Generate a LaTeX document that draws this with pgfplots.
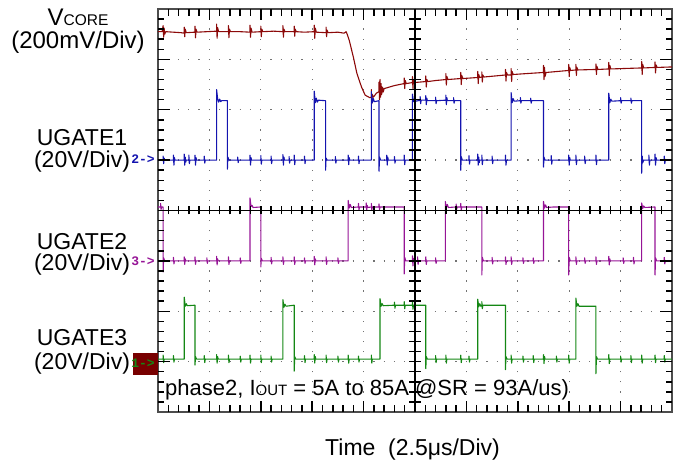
\documentclass[border=0pt]{standalone}
\usepackage{pgfplots}
\pgfplotsset{compat=1.18}
\usepackage{fontspec}
\setmainfont{Liberation Sans}
\setmonofont{Liberation Mono}
\definecolor{vcore}{RGB}{140,10,10}
\definecolor{ugA}{RGB}{20,20,175}
\definecolor{ugB}{RGB}{150,20,150}
\definecolor{ugC}{RGB}{20,135,20}
\definecolor{mkbox}{RGB}{120,0,0}
\newcommand{\fs}[1]{\fontsize{#1}{#1}\selectfont}
\begin{document}
\begin{tikzpicture}[tk/.style={black, line width=1.5pt}]
\path[use as bounding box] (-158pt,-52pt) rectangle (520pt,412pt);
% frame, grid and traces
\begin{axis}[
  scale only axis, width=514pt, height=403pt,
  xmin=0, xmax=10, ymin=0, ymax=8,
  xtick={0,1,...,10}, ytick={0,1,...,8},
  xticklabels={}, yticklabels={},
  major tick length=0pt,
  axis line style={black!70, line width=1.2pt},
  xmajorgrids, ymajorgrids,
  x grid style={black!55, line width=1.3pt, dash pattern=on 1.3pt off 8.775pt, dash phase=0.65pt},
  y grid style={black!55, line width=1.3pt, dash pattern=on 1.3pt off 8.98pt, dash phase=0.65pt},
  every axis plot/.append style={line width=1.1pt, line join=round},
]
% VCORE
\addplot[vcore] coordinates {
(0,7.55)(0.08,7.55)(0.1,7.67)(0.11,7.44)(0.12,7.62)(0.13,7.5)(0.15,7.55)
(0.3,7.54)(0.45,7.53)(0.51,7.52)(0.51,7.64)(0.52,7.45)(0.53,7.6)(0.55,7.53)
(0.72,7.54)(0.72,7.66)(0.73,7.43)(0.74,7.6)(0.76,7.54)
(0.95,7.55)(1.14,7.56)(1.14,7.7)(1.15,7.42)(1.16,7.63)(1.18,7.55)
(1.37,7.55)(1.37,7.67)(1.38,7.43)(1.39,7.6)(1.41,7.55)
(1.6,7.55)(1.79,7.54)(1.79,7.68)(1.80,7.44)(1.81,7.62)(1.83,7.54)
(2.0,7.55)(2.0,7.66)(2.01,7.45)(2.02,7.6)(2.04,7.55)
(2.25,7.56)(2.43,7.55)(2.43,7.67)(2.44,7.44)(2.45,7.6)(2.47,7.55)
(2.65,7.55)(2.65,7.66)(2.66,7.46)(2.67,7.6)(2.69,7.55)
(2.85,7.54)(3.04,7.55)(3.04,7.68)(3.05,7.42)(3.06,7.62)(3.08,7.54)
(3.27,7.53)(3.27,7.64)(3.28,7.45)(3.29,7.58)(3.31,7.53)
(3.5,7.54)(3.62,7.52)(3.66,7.55)(3.68,7.5)(3.72,7.38)(3.8,7.05)(3.87,6.72)(3.96,6.45)(4.03,6.29)(4.12,6.24)
(4.15,6.25)(4.15,6.4)(4.16,6.12)(4.17,6.3)(4.19,6.25)
(4.25,6.33)(4.3,6.36)(4.3,6.55)(4.31,6.2)(4.32,6.6)(4.33,6.25)(4.34,6.52)(4.35,6.3)(4.37,6.45)(4.38,6.35)(4.40,6.42)
(4.6,6.48)(4.79,6.52)(4.79,6.63)(4.80,6.42)(4.81,6.58)(4.83,6.52)
(4.95,6.54)(4.95,6.66)(4.96,6.42)(4.97,6.6)(4.99,6.54)
(5.21,6.56)(5.21,6.67)(5.22,6.45)(5.23,6.6)(5.25,6.56)
(5.4,6.58)(5.6,6.6)(5.6,6.72)(5.61,6.49)(5.62,6.66)(5.64,6.6)
(5.89,6.62)(5.89,6.74)(5.90,6.5)(5.91,6.68)(5.93,6.62)
(6.22,6.64)(6.22,6.76)(6.23,6.52)(6.24,6.7)(6.26,6.64)
(6.30,6.65)(6.30,6.75)(6.31,6.55)(6.32,6.69)(6.34,6.65)
(6.55,6.67)(6.76,6.69)(6.76,6.8)(6.77,6.57)(6.78,6.74)(6.80,6.69)
(6.87,6.69)(6.87,6.82)(6.88,6.56)(6.89,6.76)(6.91,6.7)
(7.2,6.72)(7.5,6.74)(7.5,6.88)(7.51,6.6)(7.52,6.84)(7.53,6.66)(7.55,6.74)
(7.99,6.78)(7.99,6.9)(8.0,6.66)(8.01,6.84)(8.03,6.78)
(8.13,6.79)(8.13,6.9)(8.14,6.68)(8.15,6.84)(8.17,6.79)
(8.52,6.8)(8.52,6.91)(8.53,6.7)(8.54,6.86)(8.56,6.8)
(8.77,6.81)(8.77,6.94)(8.78,6.68)(8.79,6.88)(8.81,6.81)
(9.1,6.82)(9.41,6.83)(9.41,6.96)(9.42,6.7)(9.43,6.9)(9.45,6.83)
(9.67,6.84)(9.67,6.95)(9.68,6.73)(9.69,6.89)(9.71,6.84)
(10,6.85)
};
% UGATE1
\addplot[ugA] coordinates {
(0,5)(0.1,5)(0.1,5.08)(0.11,4.93)(0.12,5.04)(0.13,5)
(0.3,5)(0.3,5.1)(0.31,4.9)(0.32,5.05)(0.33,5)
(0.51,5)(0.51,5.12)(0.52,4.9)(0.53,5.06)(0.54,4.96)(0.55,5)
(0.6,5)(0.6,5.1)(0.61,4.93)(0.62,5)
(0.72,5)(0.72,5.1)(0.73,4.9)(0.74,5.05)(0.75,5)
(0.9,5)(0.9,5.08)(0.91,4.94)(0.92,5)
(1.14,5)(1.14,6.40)(1.16,6.22)(1.18,6.15)(1.20,6.21)(1.22,6.16)(1.24,6.18)(1.35,6.18)(1.35,4.82)(1.36,5.06)(1.38,5)
(1.55,5)(1.55,5.06)(1.56,4.95)(1.57,5)
(1.79,5)(1.79,5.1)(1.8,4.9)(1.81,5.05)(1.82,5)
(2.0,5)(2.0,5.09)(2.01,4.92)(2.02,5)
(2.2,5)(2.2,5.08)(2.21,4.93)(2.22,5)
(2.43,5)(2.43,5.11)(2.44,4.9)(2.45,5.06)(2.46,5)
(2.55,5)(2.55,5.07)(2.56,4.94)(2.57,5)
(2.65,5)(2.65,5.1)(2.66,4.91)(2.67,5)
(2.85,5)(2.85,5.08)(2.86,4.93)(2.87,5)
(3.04,5)(3.04,6.37)(3.06,6.14)(3.08,6.23)(3.10,6.15)(3.12,6.19)(3.26,6.18)(3.26,4.8)(3.27,5.04)(3.29,5)
(3.45,5)(3.45,5.07)(3.46,4.94)(3.47,5)
(3.7,5)(3.7,5.1)(3.71,4.91)(3.72,5.05)(3.73,5)
(3.9,5)(3.9,5.08)(3.91,4.93)(3.92,5)
(4.15,5)(4.15,6.36)(4.17,6.14)(4.19,6.22)(4.21,6.16)(4.30,6.18)(4.30,4.78)(4.31,5.06)(4.33,5)
(4.45,5)(4.45,5.1)(4.46,4.9)(4.47,5.06)(4.48,5)
(4.6,5)(4.6,5.07)(4.61,4.94)(4.62,5)
(4.79,5)(4.79,5.1)(4.8,4.91)(4.81,5)
(4.95,5)(4.95,6.31)(4.97,6.16)(5.0,6.2)(5.02,6.17)
(5.1,6.19)(5.1,6.26)(5.11,6.12)(5.12,6.19)(5.21,6.19)(5.21,6.28)(5.22,6.1)(5.23,6.23)(5.24,6.18)
(5.4,6.18)(5.4,6.25)(5.41,6.12)(5.42,6.18)(5.6,6.19)(5.6,6.29)(5.61,6.1)(5.62,6.24)(5.63,6.18)
(5.75,6.18)(5.75,6.24)(5.76,6.13)(5.77,6.18)(5.89,6.18)(5.89,4.8)(5.9,5.07)(5.92,5)
(6.05,5)(6.05,5.09)(6.06,4.92)(6.07,5)
(6.22,5)(6.22,5.12)(6.23,4.9)(6.24,5.06)(6.25,4.95)(6.26,5)
(6.3,5)(6.3,5.1)(6.31,4.91)(6.32,5)
(6.5,5)(6.5,5.08)(6.51,4.93)(6.52,5)
(6.76,5)(6.76,5.1)(6.77,4.9)(6.78,5)
(6.87,5)(6.87,6.34)(6.89,6.14)(6.91,6.22)(6.93,6.17)(7.05,6.18)(7.05,6.24)(7.06,6.13)(7.07,6.18)
(7.25,6.18)(7.25,6.23)(7.26,6.13)(7.27,6.18)(7.5,6.18)(7.5,4.86)(7.51,5.06)(7.53,5)
(7.65,5)(7.65,5.09)(7.66,4.92)(7.67,5)
(7.99,5)(7.99,5.1)(8.0,4.9)(8.01,5.05)(8.02,5)
(8.13,5)(8.13,5.1)(8.14,4.91)(8.15,5)
(8.3,5)(8.3,5.08)(8.31,4.93)(8.32,5)
(8.52,5)(8.52,5.1)(8.53,4.91)(8.54,5)
(8.77,5)(8.77,6.33)(8.79,6.14)(8.81,6.21)(8.83,6.17)(9.0,6.18)(9.0,6.24)(9.01,6.13)(9.02,6.18)
(9.2,6.18)(9.2,6.23)(9.21,6.13)(9.22,6.18)(9.41,6.18)(9.41,4.74)(9.42,5.08)(9.43,4.95)(9.45,5)
(9.55,5)(9.55,5.1)(9.56,4.9)(9.57,5)
(9.67,5)(9.67,5.12)(9.68,4.9)(9.69,5.05)(9.7,5)
(9.85,5)(9.85,5.08)(9.86,4.93)(9.87,5)(10,5)
};
% UGATE2
\addplot[ugB] coordinates {
(0,4.07)(0.05,4.07)(0.05,4.14)(0.06,4.02)(0.07,4.07)(0.1,4.07)(0.1,2.78)(0.11,3.06)(0.13,3.0)
(0.3,3)(0.3,3.07)(0.31,2.94)(0.32,3)
(0.51,3)(0.51,3.08)(0.52,2.93)(0.53,3.04)(0.54,3)
(0.72,3)(0.72,3.08)(0.73,2.93)(0.74,3)
(0.95,3)(0.95,3.06)(0.96,2.95)(0.97,3)
(1.14,3)(1.14,3.09)(1.15,2.92)(1.16,3.04)(1.17,3)
(1.37,3)(1.37,3.08)(1.38,2.93)(1.39,3)
(1.6,3)(1.6,3.06)(1.61,2.95)(1.62,3)
(1.79,3)(1.79,4.25)(1.81,4.08)(1.83,4.1)(1.85,4.06)(2.0,4.07)(2.0,2.88)(2.01,3.05)(2.03,3)
(2.2,3)(2.2,3.07)(2.21,2.94)(2.22,3)
(2.43,3)(2.43,3.08)(2.44,2.93)(2.45,3)
(2.65,3)(2.65,3.08)(2.66,2.93)(2.67,3)
(2.85,3)(2.85,3.06)(2.86,2.95)(2.87,3)
(3.04,3)(3.04,3.09)(3.05,2.92)(3.06,3.04)(3.07,3)
(3.27,3)(3.27,3.08)(3.28,2.93)(3.29,3)
(3.5,3)(3.5,3.06)(3.51,2.95)(3.52,3)
(3.70,3)(3.70,4.2)(3.72,4.05)(3.74,4.12)(3.76,4.06)(3.9,4.07)(3.9,4.14)(3.91,4.01)(3.92,4.07)
(4.05,4.07)(4.05,4.15)(4.06,4.0)(4.07,4.1)(4.08,4.06)(4.15,4.07)(4.15,4.14)(4.16,4.01)(4.17,4.07)
(4.3,4.07)(4.3,4.13)(4.31,4.02)(4.32,4.07)(4.79,4.07)(4.79,2.74)(4.80,3.07)(4.82,3)
(4.95,3)(4.95,3.1)(4.96,2.9)(4.97,3.05)(4.98,3)
(5.05,3)(5.05,3.08)(5.06,2.93)(5.07,3)
(5.21,3)(5.21,3.08)(5.22,2.93)(5.23,3)
(5.40,3)(5.40,3.06)(5.41,2.95)(5.42,3)
(5.59,3)(5.59,4.18)(5.61,4.05)(5.63,4.12)(5.65,4.06)(5.8,4.07)(5.8,4.13)(5.81,4.02)(5.82,4.07)
(5.89,4.07)(5.89,4.14)(5.90,4.0)(5.91,4.07)(6.30,4.07)(6.30,2.72)(6.31,3.07)(6.33,3)
(6.5,3)(6.5,3.07)(6.51,2.94)(6.52,3)
(6.76,3)(6.76,3.08)(6.77,2.93)(6.78,3)
(6.87,3)(6.87,3.08)(6.88,2.93)(6.89,3)
(7.1,3)(7.1,3.06)(7.11,2.95)(7.12,3)
(7.3,3)(7.3,3.06)(7.31,2.95)(7.32,3)
(7.50,3)(7.50,4.18)(7.52,4.05)(7.54,4.11)(7.56,4.06)(7.7,4.07)(7.99,4.07)(7.99,2.72)(8.0,3.07)(8.02,3)
(8.13,3)(8.13,3.08)(8.14,2.93)(8.15,3)
(8.3,3)(8.3,3.06)(8.31,2.95)(8.32,3)
(8.52,3)(8.52,3.08)(8.53,2.93)(8.54,3)
(8.77,3)(8.77,3.09)(8.78,2.92)(8.79,3.04)(8.8,3)
(9.05,3)(9.05,3.06)(9.06,2.95)(9.07,3)
(9.25,3)(9.25,3.07)(9.26,2.94)(9.27,3)
(9.41,3)(9.41,4.15)(9.43,4.04)(9.45,4.09)(9.47,4.06)(9.67,4.07)(9.67,2.72)(9.68,3.06)(9.7,3)
(9.85,3)(9.85,3.07)(9.86,2.94)(9.87,3)(10,3)
};
% UGATE3
\addplot[ugC] coordinates {
(0,1.05)(0.1,1.05)(0.1,1.13)(0.11,0.98)(0.12,1.05)
(0.3,1.05)(0.3,1.12)(0.31,0.99)(0.32,1.05)
(0.51,1.05)(0.51,2.28)(0.53,2.1)(0.55,2.15)(0.57,2.11)(0.72,2.12)(0.72,0.93)(0.73,1.1)(0.75,1.05)
(0.9,1.05)(0.9,1.12)(0.91,0.98)(0.92,1.05)
(1.14,1.05)(1.14,1.14)(1.15,0.97)(1.16,1.1)(1.17,1.05)
(1.37,1.05)(1.37,1.13)(1.38,0.98)(1.39,1.05)
(1.6,1.05)(1.6,1.11)(1.61,0.99)(1.62,1.05)
(1.79,1.05)(1.79,1.13)(1.8,0.97)(1.81,1.05)
(2.0,1.05)(2.0,1.13)(2.01,0.98)(2.02,1.05)
(2.2,1.05)(2.2,1.11)(2.21,0.99)(2.22,1.05)
(2.43,1.05)(2.43,2.23)(2.45,2.08)(2.47,2.14)(2.49,2.1)(2.65,2.12)(2.65,0.81)(2.66,1.1)(2.68,1.05)
(2.85,1.05)(2.85,1.12)(2.86,0.98)(2.87,1.05)
(3.04,1.05)(3.04,1.14)(3.05,0.97)(3.06,1.1)(3.07,1.05)
(3.27,1.05)(3.27,1.13)(3.28,0.98)(3.29,1.05)
(3.5,1.05)(3.5,1.11)(3.51,0.99)(3.52,1.05)
(3.7,1.05)(3.7,1.13)(3.71,0.97)(3.72,1.05)
(3.9,1.05)(3.9,1.11)(3.91,0.99)(3.92,1.05)
(4.15,1.05)(4.15,1.13)(4.16,0.97)(4.17,1.05)
(4.32,1.05)(4.32,2.25)(4.34,2.1)(4.36,2.15)(4.38,2.11)(4.6,2.12)(4.6,2.18)(4.61,2.06)(4.62,2.12)
(4.79,2.12)(4.79,2.19)(4.8,2.05)(4.81,2.12)(4.95,2.12)(4.95,2.2)(4.96,2.04)(4.97,2.12)(5.21,2.12)(5.21,0.86)(5.22,1.1)(5.24,1.05)
(5.4,1.05)(5.4,1.12)(5.41,0.98)(5.42,1.05)
(5.6,1.05)(5.6,1.13)(5.61,0.97)(5.62,1.05)
(5.89,1.05)(5.89,1.13)(5.9,0.98)(5.91,1.05)
(6.05,1.05)(6.05,1.11)(6.06,0.99)(6.07,1.05)
(6.22,1.05)(6.22,2.24)(6.24,2.09)(6.26,2.15)(6.28,2.1)(6.3,2.12)(6.3,2.19)(6.31,2.05)(6.32,2.12)(6.76,2.12)(6.76,0.84)(6.77,1.1)(6.79,1.05)
(6.87,1.05)(6.87,1.13)(6.88,0.97)(6.89,1.05)
(7.1,1.05)(7.1,1.11)(7.11,0.99)(7.12,1.05)
(7.3,1.05)(7.3,1.12)(7.31,0.98)(7.32,1.05)
(7.5,1.05)(7.5,1.14)(7.51,0.96)(7.52,1.1)(7.53,1.05)
(7.75,1.05)(7.75,1.11)(7.76,0.99)(7.77,1.05)
(7.99,1.05)(7.99,1.13)(8.0,0.97)(8.01,1.05)
(8.13,1.05)(8.13,2.26)(8.15,2.1)(8.17,2.15)(8.19,2.1)(8.52,2.1)(8.52,0.76)(8.53,1.1)(8.55,1.05)
(8.77,1.05)(8.77,1.14)(8.78,0.96)(8.79,1.05)
(9.0,1.05)(9.0,1.11)(9.01,0.99)(9.02,1.05)
(9.2,1.05)(9.2,1.12)(9.21,0.98)(9.22,1.05)
(9.41,1.05)(9.41,1.13)(9.42,0.97)(9.43,1.05)
(9.67,1.05)(9.67,1.13)(9.68,0.98)(9.69,1.05)
(9.85,1.05)(9.85,1.12)(9.86,0.99)(9.87,1.05)(10,1.05)
};
\end{axis}
% centre cross and scope ticks (box is 514pt x 403pt at the origin)
\draw[black, line width=1.5pt] (0pt,201.5pt) -- (514pt,201.5pt) (257pt,0pt) -- (257pt,403pt);
\foreach \i in {1,...,49}{
  \draw[tk] (\i*10.28pt,403pt) -- (\i*10.28pt,396pt);
  \draw[tk] (\i*10.28pt,0pt) -- (\i*10.28pt,7pt);
  \draw[tk] (\i*10.28pt,197.5pt) -- (\i*10.28pt,205.5pt);
}
\foreach \i in {1,...,9}{
  \draw[tk] (\i*51.4pt,403pt) -- (\i*51.4pt,392pt);
  \draw[tk] (\i*51.4pt,0pt) -- (\i*51.4pt,11pt);
}
\foreach \j in {1,...,39}{
  \draw[tk] (0pt,\j*10.075pt) -- (6pt,\j*10.075pt);
  \draw[tk] (514pt,\j*10.075pt) -- (508pt,\j*10.075pt);
  \draw[tk] (251pt,\j*10.075pt) -- (263pt,\j*10.075pt);
}
\foreach \j in {1,...,7}{
  \draw[tk] (0pt,\j*50.375pt) -- (12pt,\j*50.375pt);
  \draw[tk] (514pt,\j*50.375pt) -- (502pt,\j*50.375pt);
}
% channel labels
\node[anchor=base] at (-80pt,386pt) {\fs{24}V{\fs{15.5}CORE}};
\node[anchor=base] at (-80pt,363pt) {\fs{24}(200mV/Div)};
\node[anchor=base] at (-76pt,266pt) {\fs{23}UGATE1};
\node[anchor=base] at (-76pt,244pt) {\fs{23}(20V/Div)};
\node[anchor=base] at (-76pt,163pt) {\fs{23}UGATE2};
\node[anchor=base] at (-76pt,142pt) {\fs{23}(20V/Div)};
\node[anchor=base] at (-76pt,67pt) {\fs{23}UGATE3};
\node[anchor=base] at (-76pt,42.5pt) {\fs{23}(20V/Div)};
% channel markers
\node[anchor=east, inner sep=0pt, text=ugA] at (-3pt,253pt) {\ttfamily\bfseries\fs{13}2->};
\node[anchor=east, inner sep=0pt, text=ugB] at (-3pt,151pt) {\ttfamily\bfseries\fs{13}3->};
\fill[mkbox] (-25pt,37.3pt) rectangle (0pt,59.3pt);
\node[anchor=east, inner sep=0pt, text=ugC] at (-3pt,48.5pt) {\ttfamily\bfseries\fs{13}1->};
% annotation and time base
\node[anchor=base west, inner sep=0pt] at (7pt,17pt) {\fs{22}phase2, I{\fs{15}OUT} = 5A to 85A @SR = 93A/us)};
\node[anchor=base west, inner sep=0pt] at (167pt,-43pt) {\fs{23}Time\ \ (2.5μs/Div)};
\end{tikzpicture}
\end{document}
